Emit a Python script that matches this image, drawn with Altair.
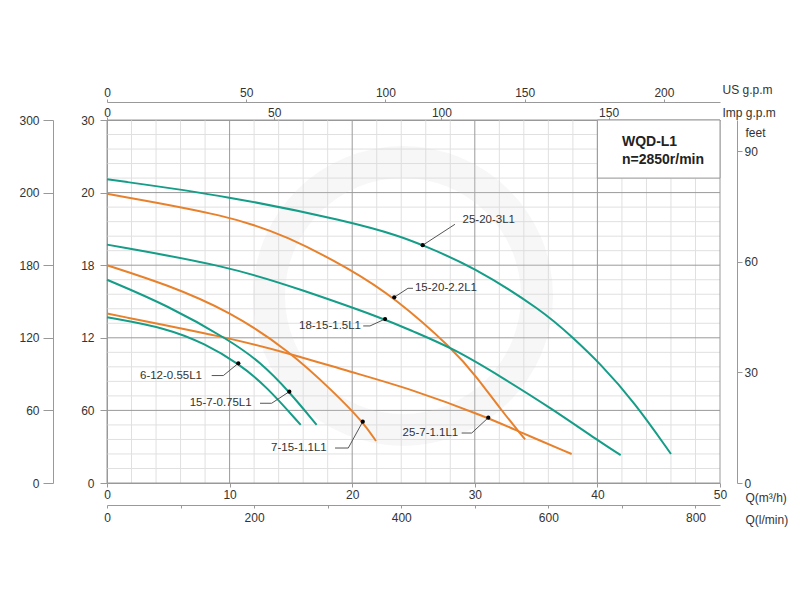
import altair as alt
import pandas as pd

# ---------------- data (Q in m3/h, H in m) ----------------
series_names = ["25-20-3L1", "15-20-2.2L1", "18-15-1.5L1", "7-15-1.1L1",
                "25-7-1.1L1", "15-7-0.75L1", "6-12-0.55L1"]
TEAL = "#159d88"
ORANGE = "#e8812c"
series_colors = [TEAL, ORANGE, TEAL, ORANGE, ORANGE, TEAL, TEAL]

q_25_20_3 = [0, 10, 19.8, 23.9, 25.75, 29.75, 35.6, 38.0, 40.2, 43.0, 46.0]
h_25_20_3 = [25.1, 23.7, 21.6, 20.4, 19.65, 17.95, 14.2, 12.0, 9.9, 6.7, 2.4]

q_15_20_22 = [0, 10, 14.7, 19.8, 23.43, 28.3, 30.2, 32.1, 34.1]
h_15_20_22 = [23.9, 22.1, 20.4, 17.7, 15.35, 11.0, 8.7, 6.1, 3.6]

q_18_15_15 = [0, 10, 15.8, 22.68, 24.7, 28.3, 32.1, 36.2, 40.2, 41.9]
h_18_15_15 = [19.7, 17.9, 16.0, 13.55, 12.64, 11.1, 8.8, 6.2, 3.4, 2.3]

q_7_15_11 = [0, 4.9, 10, 14.9, 18.46, 20.86, 21.94]
h_7_15_11 = [18.0, 16.4, 14.2, 10.9, 7.55, 5.07, 3.47]

q_25_7_11 = [0, 10, 14.9, 19.8, 24.7, 31.1, 33.7, 37.9]
h_25_7_11 = [14.0, 12.0, 10.7, 9.2, 7.8, 5.4, 4.2, 2.4]

q_15_7_075 = [0, 4.9, 10, 12.5, 14.87, 17.1]
h_15_7_075 = [16.8, 14.7, 11.8, 10.0, 7.55, 4.8]

q_6_12_055 = [0, 4.9, 8, 10.71, 13.0, 15.8]
h_6_12_055 = [13.7, 12.8, 11.5, 9.89, 8.0, 4.8]

series_q = [q_25_20_3, q_15_20_22, q_18_15_15, q_7_15_11, q_25_7_11, q_15_7_075, q_6_12_055]
series_h = [h_25_20_3, h_15_20_22, h_18_15_15, h_7_15_11, h_25_7_11, h_15_7_075, h_6_12_055]

# label points (dot on curve), label text anchor, leader polyline
dot_q = [25.75, 23.43, 22.68, 20.86, 31.1, 14.87, 10.71]
dot_h = [19.65, 15.35, 13.55, 5.07, 5.40, 7.55, 9.89]
label_q = [29.0, 25.12, 20.72, 17.92, 28.65, 11.8, 7.75]
label_h = [21.74, 16.09, 12.98, 2.89, 4.13, 6.59, 8.88]
label_align = ["left", "left", "right", "right", "right", "right", "right"]
leader_q = [[28.38, 25.75], [24.96, 24.55, 23.43], [20.9, 21.45, 22.68], [18.6, 19.68, 20.86],
            [28.93, 29.75, 31.1], [12.48, 13.43, 14.87], [8.54, 9.49, 10.71]]
leader_h = [[21.38, 19.65], [16.09, 16.09, 15.35], [12.98, 12.98, 13.55], [2.89, 2.89, 5.07],
            [4.13, 4.13, 5.40], [6.59, 6.59, 7.55], [8.88, 8.88, 9.89]]

# axes
q_ticks = [0, 10, 20, 30, 40, 50]
h_ticks = [0, 6, 12, 18, 24, 30]
inner_labels = ["0", "60", "12", "18", "20", "30"]
outer_labels = ["0", "60", "120", "180", "200", "300"]
us_ticks = [0, 50, 100, 150, 200]
imp_ticks = [0, 50, 100, 150]
lmin_ticks = [0, 100, 200, 300, 400, 500, 600, 700, 800]
feet_ticks = [0, 30, 60, 90]
minor_q = [v for v in range(0, 51, 2) if v % 10]
minor_h = [round(i * 1.2, 1) for i in range(26) if i % 5]

box_title = ["WQD-L1", "n=2850r/min"]
box_text_q = [42.0, 42.0]
box_text_h = [28.18, 26.69]

Q_MAX, H_MAX = 50, 30
US_MAX = Q_MAX * 4.4029
IMP_MAX = Q_MAX * 3.6662
LMIN_MAX = Q_MAX * 1000 / 60
FEET_MAX = H_MAX * 3.2808

# ---------------- frames ----------------
rows = []
for name, qs, hs in zip(series_names, series_q, series_h):
    for q, h in zip(qs, hs):
        rows.append({"name": name, "Q": q, "H": h})
curves_df = pd.DataFrame(rows)

lrows = []
for name, qs, hs in zip(series_names, leader_q, leader_h):
    for k, (q, h) in enumerate(zip(qs, hs)):
        lrows.append({"name": name, "k": k, "Q": q, "H": h})
leader_df = pd.DataFrame(lrows)

dots_df = pd.DataFrame({"name": series_names, "Q": dot_q, "H": dot_h})
labels_df = pd.DataFrame({"name": series_names, "Q": label_q, "H": label_h, "align": label_align})
box_df = pd.DataFrame({"q1": [40], "q2": [50], "h1": [25.2], "h2": [30]})
box_text_df = pd.DataFrame({"t": box_title, "Q": box_text_q, "H": box_text_h})


def label_expr(values, labels):
    expr = "datum.label"
    for v, l in zip(values, labels):
        expr = f"datum.value == {v} ? '{l}' : (" + expr + ")"
    return expr


xs = alt.Scale(domain=[0, Q_MAX], nice=False, zero=False)
ys = alt.Scale(domain=[0, H_MAX], nice=False, zero=False)


def X(field):
    return alt.X(field, scale=xs, axis=None)


def Y(field):
    return alt.Y(field, scale=ys, axis=None)


vminor = alt.Chart(pd.DataFrame({"Q": minor_q})).mark_rule(color="#e0e0e0", strokeWidth=1).encode(x=X("Q:Q"))
hminor = alt.Chart(pd.DataFrame({"H": minor_h})).mark_rule(color="#e0e0e0", strokeWidth=1).encode(y=Y("H:Q"))
vmajor = alt.Chart(pd.DataFrame({"Q": q_ticks})).mark_rule(color="#9a9a9a", strokeWidth=1).encode(x=X("Q:Q"))
hmajor = alt.Chart(pd.DataFrame({"H": h_ticks})).mark_rule(color="#9a9a9a", strokeWidth=1).encode(y=Y("H:Q"))

water = alt.Chart(pd.DataFrame({"a": [0]})).mark_arc(
    radius=150, radius2=118, theta=0, theta2=6.2832, color="#d5d5d5", opacity=0.2
).encode(x=alt.value(296), y=alt.value(176))

box = alt.Chart(box_df).mark_rect(fill="white", stroke="#999999", strokeWidth=1).encode(
    x=X("q1:Q"), x2="q2:Q", y=Y("h1:Q"), y2="h2:Q")

curves = alt.Chart(curves_df).mark_line(strokeWidth=2, interpolate="basis").encode(
    x=X("Q:Q"), y=Y("H:Q"),
    color=alt.Color("name:N", scale=alt.Scale(domain=series_names, range=series_colors), legend=None),
    detail="name:N")

leaders = alt.Chart(leader_df).mark_line(color="#555555", strokeWidth=1).encode(
    x=X("Q:Q"), y=Y("H:Q"), detail="name:N", order="k:Q")

dots = alt.Chart(dots_df).mark_circle(color="black", size=18, opacity=1).encode(x=X("Q:Q"), y=Y("H:Q"))

lab_left = alt.Chart(labels_df).transform_filter("datum.align == 'left'").mark_text(
    align="left", baseline="middle", fontSize=11.5, color="#333333").encode(
    x=X("Q:Q"), y=Y("H:Q"), text="name:N")
lab_right = alt.Chart(labels_df).transform_filter("datum.align == 'right'").mark_text(
    align="right", baseline="middle", fontSize=11.5, color="#333333").encode(
    x=X("Q:Q"), y=Y("H:Q"), text="name:N")

box_text = alt.Chart(box_text_df).mark_text(
    align="left", baseline="middle", fontSize=14, fontWeight="bold", color="#222222").encode(
    x=X("Q:Q"), y=Y("H:Q"), text="t:N")

main = alt.layer(vminor, hminor, vmajor, hmajor, water, box, curves, leaders, dots,
                 lab_left, lab_right, box_text)


def xaxis_layer(vmax, axis):
    return alt.Chart(pd.DataFrame({"v": [0, vmax]})).mark_point(opacity=0).encode(
        x=alt.X("v:Q", scale=alt.Scale(domain=[0, vmax], nice=False, zero=False), axis=axis))


def yaxis_layer(vmax, axis):
    return alt.Chart(pd.DataFrame({"v": [0, vmax]})).mark_point(opacity=0).encode(
        y=alt.Y("v:Q", scale=alt.Scale(domain=[0, vmax], nice=False, zero=False), axis=axis))


q_axis = xaxis_layer(Q_MAX, alt.Axis(
    orient="bottom", offset=0, values=q_ticks, tickSize=4, labelPadding=2, labelFlush=False, grid=False,
    title="Q(m³/h)", titleX=638, titleY=14, titleAlign="left", titleBaseline="middle", titleAngle=0))
h_axis = yaxis_layer(H_MAX, alt.Axis(
    orient="left", offset=0, values=h_ticks, tickSize=7, labelPadding=6, grid=False,
    labelExpr=label_expr(h_ticks, inner_labels), title=None))
us_axis = xaxis_layer(US_MAX, alt.Axis(
    orient="top", offset=18, values=us_ticks, tickSize=3, labelPadding=3,
    labelBaseline="alphabetic", labelFlush=False, grid=False,
    title="US g.p.m", titleX=615, titleY=-13, titleAlign="left", titleBaseline="middle", titleAngle=0))
imp_axis = xaxis_layer(IMP_MAX, alt.Axis(
    orient="top", offset=0, values=imp_ticks, tickSize=3, labelPadding=1,
    labelBaseline="alphabetic", labelFlush=False, grid=False,
    title="Imp g.p.m", titleX=615, titleY=-8, titleAlign="left", titleBaseline="middle", titleAngle=0))
lmin_axis = xaxis_layer(LMIN_MAX, alt.Axis(
    orient="bottom", offset=22, values=lmin_ticks, tickSize=3, labelPadding=4,
    labelExpr="datum.value % 200 == 0 ? datum.label : ''", labelFlush=False, grid=False,
    title="Q(l/min)", titleX=638, titleY=14, titleAlign="left", titleBaseline="middle", titleAngle=0))
feet_axis = yaxis_layer(FEET_MAX, alt.Axis(
    orient="right", offset=17, values=feet_ticks, tickSize=5, labelPadding=2, grid=False,
    title="feet", titleX=8, titleY=12, titleAlign="left", titleBaseline="middle", titleAngle=0))
outer_axis = yaxis_layer(H_MAX, alt.Axis(
    orient="left", offset=54, values=h_ticks, tickSize=10, labelPadding=4, grid=False,
    labelExpr=label_expr(h_ticks, outer_labels), title=None))

chart = alt.layer(main, q_axis, h_axis, us_axis, imp_axis, lmin_axis, feet_axis, outer_axis).resolve_scale(
    x="independent", y="independent"
).properties(
    width=613, height=363,
    padding={"left": 107, "top": 120, "right": 80, "bottom": 117},
    autosize=alt.AutoSizeParams(type="none"),
    background="white",
).configure(font="Liberation Sans").configure_view(strokeWidth=0).configure_axis(
    labelFont="Liberation Sans", labelFontSize=12, labelColor="#333333",
    domainColor="#999999", tickColor="#999999",
    titleFont="Liberation Sans", titleFontSize=12, titleFontWeight="normal", titleColor="#333333",
)

chart.save("out.html", embed_options={"renderer": "svg", "actions": False})
